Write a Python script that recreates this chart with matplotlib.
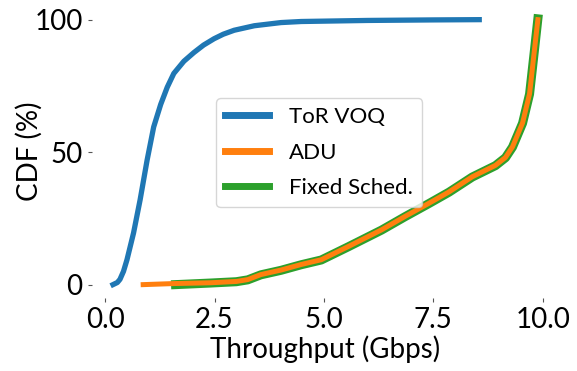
import matplotlib
matplotlib.use("Agg")
import matplotlib.pyplot as plt

plt.rcParams['font.family'] = ['Lato', 'DejaVu Sans']

# ToR VOQ
voq_x = [0.18, 0.28, 0.34, 0.42, 0.5, 0.65, 0.8, 0.96, 1.11, 1.27, 1.42, 1.57, 1.8, 2.03, 2.25, 2.49, 2.7, 2.95, 3.41, 4.02, 4.48, 6.0, 7.5, 8.55]
voq_y = [0, 0.8, 2, 5, 9.4, 19.5, 32, 47, 59.5, 68, 74.5, 79.7, 84.3, 87.6, 90.4, 92.8, 94.5, 96, 97.7, 98.9, 99.3, 99.7, 99.9, 100]

# ADU
adu_x = [0.87, 1.57, 2.41, 3.0, 3.26, 3.56, 4.02, 4.48, 4.94, 5.56, 6.32, 6.85, 7.40, 7.86, 8.39, 8.92, 9.15, 9.31, 9.54, 9.70, 9.81, 9.89]
adu_y = [0, 0.4, 0.7, 1.2, 1.9, 3.8, 5.5, 7.6, 9.4, 14.4, 20.7, 25.7, 30.7, 35, 40.7, 45, 48, 52, 61, 72, 88.3, 100]

# Fixed Sched.
fix_x = [1.61, 2.41, 3.0, 3.26, 3.56, 4.02, 4.48, 4.94, 5.56, 6.32, 6.85, 7.40, 7.86, 8.39, 8.92, 9.15, 9.31, 9.54, 9.70, 9.81, 9.89]
fix_y = [0.0, 0.6, 1.1, 1.8, 3.7, 5.4, 7.5, 9.3, 14.3, 20.6, 25.6, 30.6, 34.9, 40.6, 44.9, 47.9, 51.9, 60.9, 71.9, 88.2, 100.3]

fig = plt.figure(figsize=(5.77, 3.71), dpi=100)
ax = fig.add_axes([0.159, 0.197, 0.81, 0.788])

ax.plot(voq_x, voq_y, color="#1f77b4", lw=3.8, label="ToR VOQ", zorder=3)
ax.plot(adu_x, adu_y, color="#ff7f0e", lw=3.6, label="ADU", zorder=3)
ax.plot(fix_x, fix_y, color="#2ca02c", lw=6.5, label="Fixed Sched.", zorder=2)

ax.set_xticks([0.0, 2.5, 5.0, 7.5, 10.0])
ax.set_yticks([0, 50, 100])
ax.tick_params(labelsize=20, length=3, color="#555555")
for s in ax.spines.values():
    s.set_visible(False)

ax.set_xlabel("Throughput (Gbps)", fontsize=20, labelpad=2)
ax.set_ylabel("CDF (%)", fontsize=20, labelpad=-6)

leg = ax.legend(loc="lower left", bbox_to_anchor=(0.266, 0.311), borderaxespad=0,
                fontsize=16, handlelength=2.0, labelspacing=0.7, handletextpad=0.9)
for h in leg.get_lines():
    h.set_linewidth(5)

fig.savefig("out.png", dpi=100)
